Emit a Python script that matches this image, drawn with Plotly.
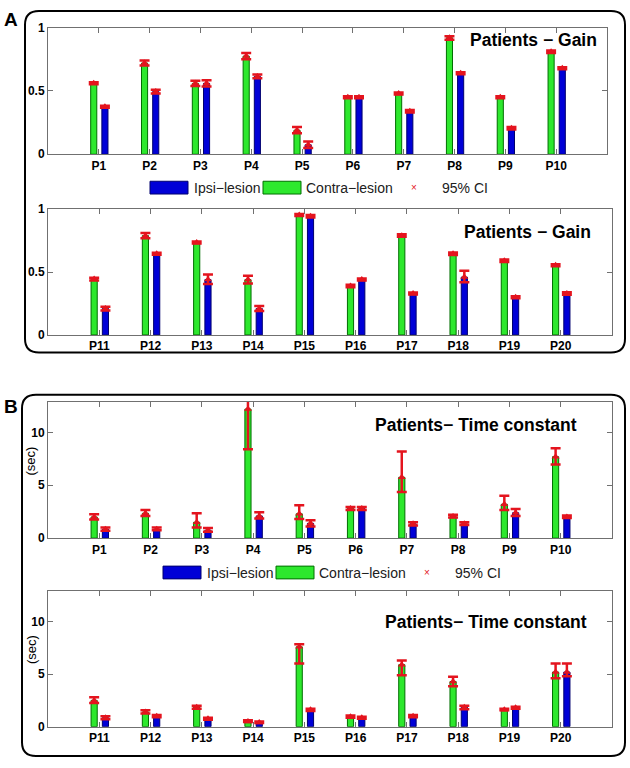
import plotly.graph_objects as go

W, H = 630, 768

# ---------------- data ----------------
labels_top = ['P1', 'P2', 'P3', 'P4', 'P5', 'P6', 'P7', 'P8', 'P9', 'P10']
labels_bot = ['P11', 'P12', 'P13', 'P14', 'P15', 'P16', 'P17', 'P18', 'P19', 'P20']

gain_contra = [0.56, 0.72, 0.56, 0.775, 0.19, 0.45, 0.48, 0.92, 0.45, 0.81,
               0.445, 0.79, 0.735, 0.44, 0.955, 0.39, 0.79, 0.645, 0.59, 0.555]
gain_contra_lo = [0.552, 0.70, 0.54, 0.75, 0.165, 0.442, 0.472, 0.905, 0.442, 0.80,
                  0.432, 0.77, 0.727, 0.41, 0.947, 0.38, 0.782, 0.635, 0.58, 0.547]
gain_contra_hi = [0.568, 0.74, 0.58, 0.80, 0.215, 0.458, 0.488, 0.932, 0.458, 0.82,
                  0.455, 0.81, 0.743, 0.47, 0.963, 0.40, 0.80, 0.655, 0.60, 0.563]

gain_ipsi = [0.375, 0.495, 0.56, 0.615, 0.075, 0.45, 0.34, 0.64, 0.205, 0.68,
             0.21, 0.645, 0.44, 0.21, 0.945, 0.44, 0.33, 0.46, 0.30, 0.33]
gain_ipsi_lo = [0.367, 0.48, 0.535, 0.60, 0.05, 0.442, 0.33, 0.632, 0.195, 0.672,
                0.195, 0.637, 0.405, 0.19, 0.935, 0.432, 0.322, 0.42, 0.292, 0.32]
gain_ipsi_hi = [0.383, 0.51, 0.585, 0.63, 0.10, 0.458, 0.35, 0.648, 0.215, 0.688,
                0.225, 0.653, 0.48, 0.23, 0.955, 0.448, 0.338, 0.51, 0.308, 0.34]

tc_contra = [2.0, 2.35, 1.5, 12.2, 2.3, 2.8, 5.75, 2.05, 3.2, 7.7,
             2.5, 1.4, 1.85, 0.5, 7.6, 0.95, 5.9, 4.3, 1.6, 5.2]
tc_contra_lo = [1.75, 2.1, 1.0, 8.4, 1.8, 2.65, 4.35, 1.95, 2.65, 6.95,
                2.25, 1.25, 1.7, 0.45, 6.0, 0.85, 4.9, 3.85, 1.55, 4.6]
tc_contra_hi = [2.25, 2.65, 2.35, 13.5, 3.1, 2.95, 8.2, 2.2, 4.0, 8.5,
                2.8, 1.55, 2.0, 0.6, 7.85, 1.05, 6.3, 4.75, 1.7, 6.0]

tc_ipsi = [0.85, 0.85, 0.75, 2.1, 1.4, 2.8, 1.35, 1.35, 2.4, 2.0,
           0.85, 1.0, 0.75, 0.4, 1.6, 0.85, 1.0, 1.85, 1.8, 5.2]
tc_ipsi_lo = [0.7, 0.75, 0.6, 1.85, 1.1, 2.65, 1.2, 1.25, 2.1, 1.9,
              0.7, 0.9, 0.65, 0.35, 1.5, 0.75, 0.9, 1.65, 1.7, 4.8]
tc_ipsi_hi = [1.0, 1.0, 0.95, 2.45, 1.7, 2.95, 1.5, 1.5, 2.75, 2.15,
              1.0, 1.1, 0.85, 0.5, 1.7, 0.95, 1.1, 2.0, 1.9, 6.0]

series_names = ['Ipsi\u2212lesion', 'Contra\u2212lesion', '95% CI']
titles = ['Patients \u2212 Gain', 'Patients\u2212 Time constant']

# ---------------- styling ----------------
GREEN = 'rgb(45,232,45)'
GREEN_EDGE = 'rgb(0,110,0)'
BLUE = 'rgb(0,0,215)'
BLUE_EDGE = 'rgb(0,0,110)'
RED = 'rgb(228,20,30)'
FONT = 'Liberation Sans, Arial, sans-serif'


def px_x(p):
    return p / W


def px_y(p):
    return 1 - p / H


fig = go.Figure()

# subplot pixel boxes: (left, right, top, bottom)
boxes = [(48, 607, 21, 150), (48, 612, 206, 334), (48, 612, 402, 541), (48, 612, 595, 733)]

panels = [
    (labels_top, gain_contra[:10], gain_contra_lo[:10], gain_contra_hi[:10],
     gain_ipsi[:10], gain_ipsi_lo[:10], gain_ipsi_hi[:10]),
    (labels_bot, gain_contra[10:], gain_contra_lo[10:], gain_contra_hi[10:],
     gain_ipsi[10:], gain_ipsi_lo[10:], gain_ipsi_hi[10:]),
    (labels_top, tc_contra[:10], tc_contra_lo[:10], tc_contra_hi[:10],
     tc_ipsi[:10], tc_ipsi_lo[:10], tc_ipsi_hi[:10]),
    (labels_bot, tc_contra[10:], tc_contra_lo[10:], tc_contra_hi[10:],
     tc_ipsi[10:], tc_ipsi_lo[10:], tc_ipsi_hi[10:]),
]

BAR_W = 0.12
G_OFF = -0.16
B_OFF = 0.06

for k, (labs, gv, glo, ghi, bv, blo, bhi) in enumerate(panels):
    n = k + 1
    xa = 'x' if n == 1 else f'x{n}'
    ya = 'y' if n == 1 else f'y{n}'
    idx = list(range(1, len(labs) + 1))
    fig.add_trace(go.Bar(x=idx, y=gv, offset=G_OFF, width=BAR_W,
                         marker=dict(color=GREEN, line=dict(color=GREEN_EDGE, width=1)),
                         xaxis=xa, yaxis=ya, showlegend=False, name=series_names[1]))
    fig.add_trace(go.Bar(x=idx, y=bv, offset=B_OFF, width=BAR_W,
                         marker=dict(color=BLUE, line=dict(color=BLUE_EDGE, width=1)),
                         xaxis=xa, yaxis=ya, showlegend=False, name=series_names[0]))
    for vals, lo, hi, off in ((gv, glo, ghi, G_OFF), (bv, blo, bhi, B_OFF)):
        fig.add_trace(go.Scatter(
            x=[i + off + BAR_W / 2 for i in idx], y=vals, mode='markers',
            marker=dict(symbol='triangle-up', size=7, color=RED),
            error_y=dict(type='data', symmetric=False,
                         array=[h - v for h, v in zip(hi, vals)],
                         arrayminus=[v - l for v, l in zip(vals, lo)],
                         color=RED, thickness=2.5, width=5),
            xaxis=xa, yaxis=ya, showlegend=False, name=series_names[2]))

    l, r, t, b = boxes[k]
    is_gain = k < 2
    axis_common = dict(showline=True, linecolor='#707070', linewidth=1, mirror='allticks',
                       ticks='inside', ticklen=5, tickcolor='#707070', showgrid=False,
                       zeroline=False,
                       tickfont=dict(family=FONT, size=12, color='black', weight='bold'))
    xkey = 'xaxis' if n == 1 else f'xaxis{n}'
    ykey = 'yaxis' if n == 1 else f'yaxis{n}'
    fig.update_layout(**{
        xkey: dict(domain=[px_x(l), px_x(r)], range=[0, 11], anchor=ya,
                   tickvals=idx, ticktext=labs, **axis_common),
        ykey: dict(domain=[px_y(b), px_y(t)], anchor=xa,
                   range=[0, 1] if is_gain else [0, 12.9],
                   tickvals=[0, 0.5, 1] if is_gain else [0, 5, 10],
                   ticktext=['0', '0.5', '1'] if is_gain else ['0', '5', '10'],
                   **axis_common),
    })

# ---------------- decorations ----------------
shapes = []
annotations = []


def rounded_rect(x0, y0, x1, y1, r):
    X = px_x
    Y = px_y
    return ('M {a},{b} L {c},{b} Q {x1},{b} {x1},{d} L {x1},{e} Q {x1},{y1} {c},{y1} '
            'L {a},{y1} Q {x0},{y1} {x0},{e} L {x0},{d} Q {x0},{b} {a},{b} Z').format(
        a=X(x0 + r), b=Y(y0), c=X(x1 - r), d=Y(y0 + r), e=Y(y1 - r),
        x0=X(x0), x1=X(x1), y1=Y(y1))


shapes.append(dict(type='path', xref='paper', yref='paper', path=rounded_rect(25, 4, 625, 352, 14),
                   line=dict(color='black', width=2)))
shapes.append(dict(type='path', xref='paper', yref='paper', path=rounded_rect(22, 395, 625, 763, 14),
                   line=dict(color='black', width=2)))

annotations.append(dict(text='<b>A</b>', x=px_x(2), y=px_y(13), xref='paper', yref='paper',
                        xanchor='left', yanchor='middle', showarrow=False,
                        font=dict(family=FONT, size=19, color='black')))
annotations.append(dict(text='<b>B</b>', x=px_x(2), y=px_y(407), xref='paper', yref='paper',
                        xanchor='left', yanchor='middle', showarrow=False,
                        font=dict(family=FONT, size=19, color='black')))

# panel titles (right aligned)
for (xr, yc, txt) in ((599, 34, titles[0]), (593, 229, titles[0]),
                      (579, 426, titles[1]), (589, 626, titles[1])):
    annotations.append(dict(text='<b>' + txt + '</b>', x=px_x(xr), y=px_y(yc), xref='paper',
                            yref='paper', xanchor='right', yanchor='middle', showarrow=False,
                            font=dict(family=FONT, size=17.5, color='black')))

# y-axis titles for time constant panels
for yc in (463, 655):
    annotations.append(dict(text='(sec)', x=px_x(31), y=px_y(yc), xref='paper', yref='paper',
                            textangle=-90, xanchor='center', yanchor='middle', showarrow=False,
                            font=dict(family=FONT, size=13, color='black')))

# legends
for (x0, yc) in ((150, 184), (163, 576)):
    shapes.append(dict(type='rect', xref='paper', yref='paper',
                       x0=px_x(x0), x1=px_x(x0 + 38), y0=px_y(yc - 6.5), y1=px_y(yc + 6.5),
                       fillcolor=BLUE, line=dict(color=BLUE_EDGE, width=1)))
    shapes.append(dict(type='rect', xref='paper', yref='paper',
                       x0=px_x(x0 + 113), x1=px_x(x0 + 151), y0=px_y(yc - 6.5), y1=px_y(yc + 6.5),
                       fillcolor=GREEN, line=dict(color=GREEN_EDGE, width=1)))
    annotations.append(dict(text=series_names[0], x=px_x(x0 + 42), y=px_y(yc), xref='paper',
                            yref='paper', xanchor='left', yanchor='middle', showarrow=False,
                            font=dict(family=FONT, size=14, color='#202020')))
    annotations.append(dict(text=series_names[1], x=px_x(x0 + 154), y=px_y(yc), xref='paper',
                            yref='paper', xanchor='left', yanchor='middle', showarrow=False,
                            font=dict(family=FONT, size=14, color='#202020')))
    annotations.append(dict(text='\u00d7', x=px_x(x0 + 264), y=px_y(yc), xref='paper',
                            yref='paper', xanchor='center', yanchor='middle', showarrow=False,
                            font=dict(family=FONT, size=10, color=RED)))
    annotations.append(dict(text=series_names[2], x=px_x(x0 + 290), y=px_y(yc), xref='paper',
                            yref='paper', xanchor='left', yanchor='middle', showarrow=False,
                            font=dict(family=FONT, size=14, color='#202020')))

fig.update_layout(width=W, height=H, autosize=False,
                  margin=dict(l=0, r=0, t=0, b=0),
                  paper_bgcolor='white', plot_bgcolor='white',
                  barmode='overlay', showlegend=False,
                  shapes=shapes, annotations=annotations,
                  font=dict(family=FONT))

fig.write_html('out.html', config={'displayModeBar': False},
               post_script="document.body.style.margin='0px';"
                           "document.body.style.overflow='hidden';")
